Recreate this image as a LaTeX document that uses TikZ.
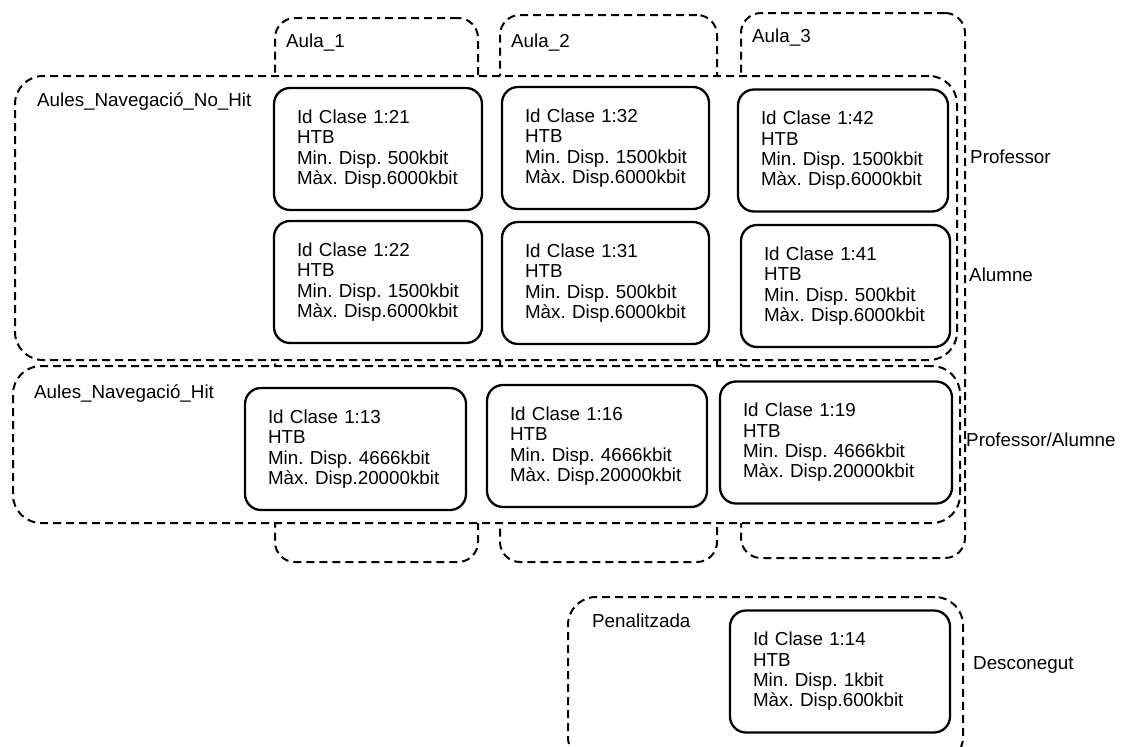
\documentclass[tikz,border=0pt]{standalone}
\usepackage{fontspec}
\setmainfont{Liberation Sans}
\begin{document}
\begin{tikzpicture}[x=1pt, y=-1pt,
            aula/.style={draw, dash pattern=on 8pt off 5pt, line width=2pt, rounded corners=20pt, inner sep=0pt},
            grup/.style={aula, fill=white, rounded corners=28pt},
            classe/.style={draw, fill=white, line width=2.3pt, rounded corners=16pt, inner xsep=23pt, inner ysep=0pt, text width=#1, align=left, minimum height=122pt, font=\fontsize{18.8}{20.3}\selectfont\frenchspacing},
            classe/.default=162pt,
            etiqueta/.style={anchor=base west, inner sep=0pt, font=\fontsize{18.8}{20}\selectfont}
            ]
            \useasboundingbox (0,0) rectangle (1122,747);
            \clip (0,0) rectangle (1122,747);

            % columnes de les aules
            \node[aula, minimum width=203pt, minimum height=544pt] (aula1) at (376.5,290) {};
            \node[aula, minimum width=217pt, minimum height=547pt] (aula2) at (608.5,288.5) {};
            \node[aula, minimum width=224pt, minimum height=545pt] (aula3) at (853,285.5) {};

            % grups
            \node[grup, minimum width=942pt, minimum height=284pt] (nohit) at (486,218) {};
            \node[grup, minimum width=947pt, minimum height=157pt] (hit) at (486.5,444.5) {};
            \node[aula, rounded corners=28pt, minimum width=395pt, minimum height=168pt] (penal) at (765.5,681) {};

            % classes
            \node[classe] (c21) at (378,149) {Id~Clase~1:21\\HTB\\Min.~Disp.~500kbit\\Màx.~Disp.6000kbit};
            \node[classe=161pt] (c32) at (605.5,148) {Id~Clase~1:32\\HTB\\Min.~Disp.~1500kbit\\Màx.~Disp.6000kbit};
            \node[classe=164pt] (c42) at (843,150.5) {Id~Clase~1:42\\HTB\\Min.~Disp.~1500kbit\\Màx.~Disp.6000kbit};
            \node[classe] (c22) at (378,282) {Id~Clase~1:22\\HTB\\Min.~Disp.~1500kbit\\Màx.~Disp.6000kbit};
            \node[classe=161pt] (c31) at (605.5,283) {Id~Clase~1:31\\HTB\\Min.~Disp.~500kbit\\Màx.~Disp.6000kbit};
            \node[classe=163pt] (c41) at (845.5,286) {Id~Clase~1:41\\HTB\\Min.~Disp.~500kbit\\Màx.~Disp.6000kbit};
            \node[classe=175pt] (c13) at (355.5,449) {Id~Clase~1:13\\HTB\\Min.~Disp.~4666kbit\\Màx.~Disp.20000kbit};
            \node[classe=174pt] (c16) at (597,446) {Id~Clase~1:16\\HTB\\Min.~Disp.~4666kbit\\Màx.~Disp.20000kbit};
            \node[classe=186pt] (c19) at (836,442.5) {Id~Clase~1:19\\HTB\\Min.~Disp.~4666kbit\\Màx.~Disp.20000kbit};
            \node[classe=174pt] (c14) at (840,671.5) {Id~Clase~1:14\\HTB\\Min.~Disp.~1kbit\\Màx.~Disp.600kbit};

            % etiquetes
            \node[etiqueta] (laula1) at (286,47) {Aula\_1};
            \node[etiqueta] (laula2) at (511,47) {Aula\_2};
            \node[etiqueta] (laula3) at (752,42) {Aula\_3};
            \node[etiqueta] (lnohit) at (37,106) {Aules\_Navegació\_No\_Hit};
            \node[etiqueta] (lhit) at (34,398) {Aules\_Navegació\_Hit};
            \node[etiqueta] (lpenal) at (592,627) {Penalitzada};
            \node[etiqueta] (lprof) at (970,163) {Professor};
            \node[etiqueta] (lalum) at (969,281) {Alumne};
            \node[etiqueta] (lprofalum) at (966,446) {Professor/Alumne};
            \node[etiqueta] (ldesc) at (973,669) {Desconegut};
\end{tikzpicture}
\end{document}
